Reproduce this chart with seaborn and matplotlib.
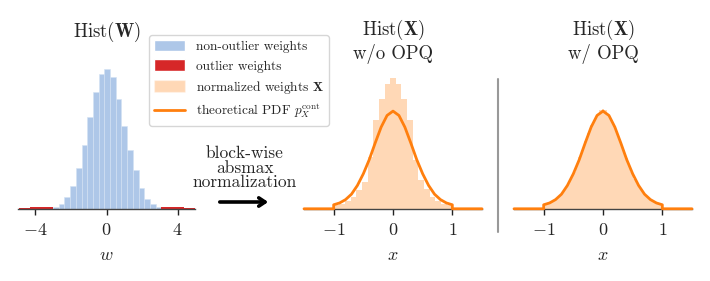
import numpy as np
import pandas as pd
import matplotlib.pyplot as plt
import seaborn as sns
from matplotlib.patches import Patch
from matplotlib.lines import Line2D

# ---- data (densities) ----
# Hist(W): non-outlier weights
w_edges = [-3.0, -2.68, -2.36, -2.04, -1.72, -1.40, -1.08, -0.76, -0.44, -0.12,
           0.20, 0.52, 0.84, 1.16, 1.48, 1.80, 2.12, 2.44, 2.76, 3.08]
w_heights = [0.006, 0.015, 0.035, 0.069, 0.122, 0.192, 0.275, 0.349, 0.403, 0.419,
             0.395, 0.329, 0.249, 0.175, 0.117, 0.063, 0.030, 0.013, 0.005]

# outlier weights (both tails)
out_left_edges = [-4.92, -4.60, -4.28, -3.96, -3.64, -3.32, -3.0]
out_left_heights = [0.001, 0.002, 0.004, 0.006, 0.006, 0.005]
out_right_edges = [3.08, 3.40, 3.72, 4.04, 4.36, 4.68, 5.0]
out_right_heights = [0.005, 0.006, 0.006, 0.004, 0.002, 0.001]

# Hist(X) w/o OPQ, 21 bins on [-1, 1]
x_noopq_heights = [0.04, 0.06, 0.096, 0.14, 0.22, 0.32, 0.62, 1.07, 1.32, 1.50, 1.57,
                   1.50, 1.32, 1.06, 0.58, 0.34, 0.24, 0.14, 0.092, 0.06, 0.04]

# Hist(X) w/ OPQ, 41 bins on [-1, 1]
x_opq_heights = [0.055, 0.066, 0.08, 0.10, 0.125, 0.155, 0.19, 0.24, 0.30, 0.37,
                 0.44, 0.53, 0.62, 0.71, 0.81, 0.91, 1.00, 1.07, 1.13, 1.18, 1.20,
                 1.19, 1.13, 1.06, 0.99, 0.90, 0.80, 0.71, 0.61, 0.52, 0.44, 0.36,
                 0.30, 0.24, 0.19, 0.15, 0.12, 0.10, 0.08, 0.065, 0.055]

# theoretical PDF p_X^cont, sampled every 0.1 on [-1, 1]
pdf_x = [-1.0, -0.9, -0.8, -0.7, -0.6, -0.5, -0.4, -0.3, -0.2, -0.1, 0.0,
         0.1, 0.2, 0.3, 0.4, 0.5, 0.6, 0.7, 0.8, 0.9, 1.0]
pdf_y = [0.048, 0.07, 0.11, 0.175, 0.28, 0.42, 0.59, 0.79, 0.98, 1.12, 1.172,
         1.12, 0.98, 0.79, 0.59, 0.42, 0.28, 0.175, 0.11, 0.07, 0.048]

BLUE = '#aec7e8'
RED = '#d62728'
ORANGE = '#ff7f0e'

sns.set_style('white')
plt.rcParams['font.family'] = 'serif'
plt.rcParams['font.serif'] = ['cmr10']
plt.rcParams['mathtext.fontset'] = 'cm'
plt.rcParams['axes.formatter.use_mathtext'] = True
FS = 12.5
TFS = 13.5


def hist_bars(ax, edges, heights, **kw):
    edges = [float(e) for e in edges]
    centers = [(a + b) / 2 for a, b in zip(edges[:-1], edges[1:])]
    df = pd.DataFrame({'x': centers, 'w': heights})
    sns.histplot(data=df, x='x', weights='w', bins=edges, stat='count', ax=ax, **kw)


def style_axis(ax, xlim, ticks, ylim, xlabel):
    ax.set_xlim(*xlim)
    ax.set_ylim(*ylim)
    ax.set_xticks(ticks, labels=[f'${t}$' for t in ticks], fontsize=13)
    ax.set_yticks([])
    ax.set_ylabel('')
    ax.set_xlabel(xlabel, fontsize=13, labelpad=7)
    for s in ['left', 'right', 'top']:
        ax.spines[s].set_visible(False)
    ax.spines['bottom'].set_color('#444444')
    ax.spines['bottom'].set_linewidth(1.0)
    ax.tick_params(axis='x', direction='out', length=4, width=1, color='#222222', pad=5.5,
                   bottom=True)


fig = plt.figure(figsize=(7.1, 2.81), dpi=100)
bot, h = 0.257, 0.5338
ax1 = fig.add_axes([18 / 710, bot, 177 / 710, h])
ax2 = fig.add_axes([304 / 710, bot, 178 / 710, h])
ax3 = fig.add_axes([514 / 710, bot, 178 / 710, h])

# panel 1
hist_bars(ax1, w_edges, w_heights, color=BLUE, alpha=1, edgecolor='#d4e2f3', linewidth=0.4)
hist_bars(ax1, out_left_edges, out_left_heights, color=RED, alpha=1, linewidth=0)
hist_bars(ax1, out_right_edges, out_right_heights, color=RED, alpha=1, linewidth=0)
style_axis(ax1, (-4.97, 4.97), [-4, 0, 4], (0, 0.45), '$w$')
ax1.set_title(r'$\mathrm{Hist}(\mathbf{W})$', fontsize=TFS, pad=16)

# panels 2 and 3
line_x = [-1.5, -1.0] + pdf_x + [1.0, 1.5]
line_y = [0.0, 0.0] + pdf_y + [0.0, 0.0]
for ax, heights, sub in [(ax2, x_noopq_heights, 'w/o OPQ'), (ax3, x_opq_heights, 'w/ OPQ')]:
    edges = np.linspace(-1, 1, len(heights) + 1)
    hist_bars(ax, edges, heights, color=ORANGE, alpha=0.3, linewidth=0)
    sns.lineplot(x=line_x, y=line_y, ax=ax, color=ORANGE, lw=2, sort=False,
                 estimator=None, clip_on=False, zorder=3)
    style_axis(ax, (-1.5, 1.5), [-1, 0, 1], (0, 1.8), '$x$')
    ax.set_title(r'$\mathrm{Hist}(\mathbf{X})$' + '\n' + sub, fontsize=TFS, pad=0,
                 linespacing=1.1)

# separator between the two X panels
fig.add_artist(Line2D([498 / 710, 498 / 710], [1 - 79 / 281, 1 - 232 / 281],
                      color='0.6', lw=1.5))

# arrow with caption
fig.text(245 / 710, 1 - 168 / 281, 'block-wise\nabsmax\nnormalization',
         ha='center', va='center', fontsize=FS, linespacing=0.95)
ax1.annotate('', xy=(271 / 710, 1 - 202 / 281), xytext=(217 / 710, 1 - 202 / 281),
             xycoords='figure fraction', textcoords='figure fraction',
             arrowprops=dict(arrowstyle='->,head_length=0.45,head_width=0.3',
                             lw=2.6, color='black'))

handles = [Patch(facecolor=BLUE), Patch(facecolor=RED),
           Patch(facecolor=ORANGE, alpha=0.3), Line2D([], [], color=ORANGE, lw=2)]
labels = ['non-outlier weights', 'outlier weights', r'normalized weights $\mathbf{X}$',
          r'theoretical PDF $p_X^{\mathrm{cont}}$']
fig.legend(handles, labels, loc='upper left', bbox_to_anchor=(149 / 710, 1 - 35 / 281),
           fontsize=9.6, frameon=True, handlelength=2.3, handleheight=0.9,
           labelspacing=0.45, borderaxespad=0)

fig.savefig('out.png', dpi=100)
